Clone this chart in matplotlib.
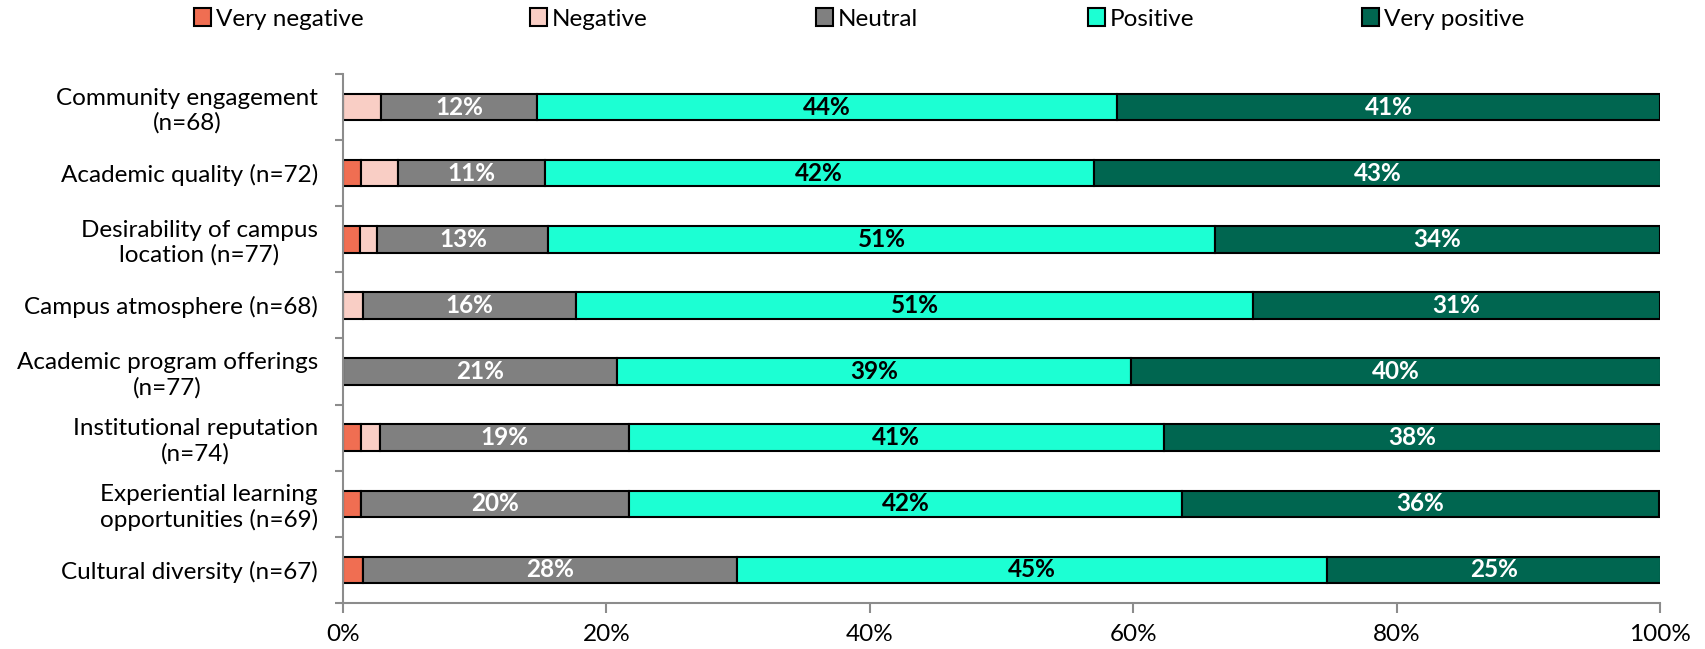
import matplotlib
matplotlib.use("Agg")
import matplotlib.pyplot as plt
from matplotlib.patches import Patch
import numpy as np

plt.rcParams['font.family'] = ['Lato', 'DejaVu Sans']

categories = [
    "Community engagement\n(n=68)",
    "Academic quality (n=72)",
    "Desirability of campus\nlocation (n=77)",
    "Campus atmosphere (n=68)",
    "Academic program offerings\n(n=77)",
    "Institutional reputation\n(n=74)",
    "Experiential learning\nopportunities (n=69)",
    "Cultural diversity (n=67)",
]
series_names = ["Very negative", "Negative", "Neutral", "Positive", "Very positive"]

very_negative = [0.0, 1.4, 1.3, 0.0, 0.0, 1.4, 1.4, 1.5]
negative      = [2.9, 2.8, 1.3, 1.5, 0.0, 1.4, 0.0, 0.0]
neutral       = [11.8, 11.1, 13.0, 16.2, 20.8, 18.9, 20.3, 28.4]
positive      = [44.1, 41.7, 50.6, 51.4, 39.0, 40.6, 42.0, 44.8]
very_positive = [41.2, 43.1, 33.8, 30.9, 40.3, 37.8, 36.2, 25.4]

x_ticks = [0, 20, 40, 60, 80, 100]
x_tick_labels = ["0%", "20%", "40%", "60%", "80%", "100%"]

colors = ["#F06E52", "#F9CEC5", "#808080", "#1CFFD3", "#006650"]
label_colors = [None, None, "white", "black", "white"]

fig = plt.figure(figsize=(17.05, 6.49), dpi=100)
ax = fig.add_axes([0.2012, 0.0709, 0.9736 - 0.2012, 0.886 - 0.0709])

values = [very_negative, negative, neutral, positive, very_positive]
y = np.arange(len(categories))
left = np.zeros(len(categories))
handles = []
for name, vals, col, lc in zip(series_names, values, colors, label_colors):
    vals = np.array(vals)
    bars = ax.barh(y, vals, left=left, height=0.4, color=col,
                   edgecolor="black", linewidth=1.5, label=name)
    if lc is not None:
        for b, v, l in zip(bars, vals, left):
            if v >= 5:
                ax.text(l + v / 2, b.get_y() + b.get_height() / 2, f"{v:.0f}%",
                        ha="center", va="center", color=lc,
                        fontsize=17.5, fontweight="bold")
    left = left + vals
    handles.append(Patch(facecolor=col, edgecolor="black", linewidth=1.5))

ax.set_xlim(0, 100)
ax.set_ylim(len(categories) - 0.5, -0.5)
ax.set_yticks(y)
ax.set_yticklabels(categories, fontsize=17.5)
for lbl in ax.get_yticklabels():
    lbl.set_multialignment("center")
ax.set_yticks(np.arange(-0.5, len(categories), 1.0), minor=True)
ax.tick_params(axis="y", which="major", length=0, pad=18)
ax.tick_params(axis="y", which="minor", length=6, width=1.5, color="#8C8C8C")

ax.set_xticks(x_ticks)
ax.set_xticklabels(x_tick_labels, fontsize=17.5)
ax.tick_params(axis="x", which="major", length=7, width=1.5, color="#8C8C8C", pad=8)

for s in ["top", "right"]:
    ax.spines[s].set_visible(False)
for s in ["left", "bottom"]:
    ax.spines[s].set_color("#8C8C8C")
    ax.spines[s].set_linewidth(1.5)

# Legend entries spaced across the top of the figure
legend_x = [202, 538, 824, 1096, 1370]
for h, name, lx in zip(handles, series_names, legend_x):
    fig.legend([h], [name], loc="center left",
               bbox_to_anchor=((lx - 8) / 1705, 1 - 19 / 649),
               frameon=False, fontsize=17.5, handlelength=0.7, handleheight=0.7,
               handletextpad=0.2, borderpad=0, borderaxespad=0)

fig.savefig("out.png", dpi=100)
